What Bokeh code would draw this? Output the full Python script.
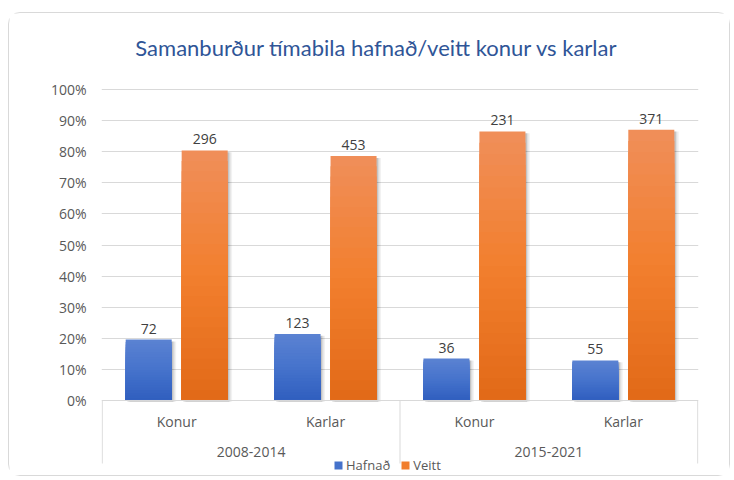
from bokeh.plotting import figure
from bokeh.models import Range1d, FixedTicker, NumeralTickFormatter, ColumnDataSource, Legend, LegendItem
from bokeh.core.properties import value
from bokeh.embed import file_html
from bokeh.resources import INLINE
import numpy as np

# ---- data ----
periods = ["2008-2014", "2015-2021"]
genders = ["Konur", "Karlar"]
categories = ["Konur", "Karlar", "Konur", "Karlar"]
hafnad_count = [72, 123, 36, 55]
veitt_count = [296, 453, 231, 371]
hafnad_pct = [0.196, 0.214, 0.135, 0.129]
veitt_pct = [0.804, 0.786, 0.865, 0.871]
yticks = [0.0, 0.1, 0.2, 0.3, 0.4, 0.5, 0.6, 0.7, 0.8, 0.9, 1.0]
series_names = ["Hafnað", "Veitt"]
title_text = "Samanburður tímabila hafnað/veitt konur vs karlar"

# ---- style ----
GRID = "#D9D9D9"
TXT = "#595959"
LBL = "#404040"
FONT = "Open Sans"
blue_grad = ["#5A82D2", "#4673CC", "#305FBF"]
orange_grad = ["#F08E58", "#F27F2E", "#E26A18"]
BAR_W = 0.309
DODGE = 0.188

n_cat = len(categories)
cat_pos = np.arange(n_cat) + 0.5
per_group = len(genders)
group_pos = np.arange(len(periods)) * per_group + per_group / 2
edges = np.arange(len(periods) + 1) * per_group

p = figure(width=722, height=464,
           x_range=Range1d(-0.005, n_cat + 0.005),
           y_range=Range1d(-0.2444, 1.2412),
           output_backend="svg", toolbar_location=None,
           x_axis_location=None, y_axis_location="left",
           min_border_left=92, min_border_right=33,
           min_border_top=1, min_border_bottom=1)
p.styles = {"margin": "12px 0px 0px 8px", "border": "1px solid #D9D9D9", "border-radius": "12px"}
p.outline_line_color = None
p.background_fill_color = "white"
p.border_fill_color = "white"
p.xgrid.visible = False
p.ygrid.ticker = FixedTicker(ticks=yticks)
p.ygrid.grid_line_color = GRID
p.ygrid.grid_line_width = 1

ax = p.yaxis[0]
ax.ticker = FixedTicker(ticks=yticks)
ax.formatter = NumeralTickFormatter(format="0%")
ax.axis_line_color = None
ax.major_tick_line_color = None
ax.minor_tick_line_color = None
ax.major_tick_out = 0
ax.major_label_standoff = 15
ax.major_label_text_font = FONT
ax.major_label_text_font_size = "14px"
ax.major_label_text_color = TXT

# chart title (drawn as text above the plot area)
p.text(x=[1.843], y=[1.135], text=[title_text], text_align="center", text_baseline="middle",
       text_font=value("Lato"), text_font_size="22px", text_color="#2F5597")


def hex2rgb(h):
    h = h.lstrip("#")
    return np.array([int(h[i:i + 2], 16) for i in (0, 2, 4)], dtype=float)


def grad(cols, t):
    if t <= 0.5:
        a, b, u = hex2rgb(cols[0]), hex2rgb(cols[1]), t / 0.5
    else:
        a, b, u = hex2rgb(cols[1]), hex2rgb(cols[2]), (t - 0.5) / 0.5
    c = a + (b - a) * u
    return "#%02x%02x%02x" % tuple(int(round(v)) for v in c)


def draw_bars(xs, tops, cols):
    tops = np.array(tops)
    # soft shadow
    for sh, al in [(0.03, 0.05), (0.02, 0.08), (0.011, 0.12)]:
        p.vbar(x=xs + sh, top=tops - 0.006, bottom=-0.004, width=BAR_W,
               fill_color="black", fill_alpha=al, line_color=None)
    N = 24
    mid = None
    for k in range(N):
        frac = 1 - k / N
        r = p.vbar(x=xs, top=tops * frac, bottom=0, width=BAR_W,
                   fill_color=grad(cols, k / (N - 1)), line_color=None)
        if k == N // 2:
            mid = r
    return mid


r_h = draw_bars(cat_pos - DODGE, hafnad_pct, blue_grad)
r_v = draw_bars(cat_pos + DODGE, veitt_pct, orange_grad)

# axis baseline and category box separators
p.segment(x0=[0], y0=[0], x1=[n_cat], y1=[0], line_color=GRID, line_width=1)
p.segment(x0=edges, y0=np.zeros(len(edges)), x1=edges, y1=np.full(len(edges), -0.2026),
          line_color=GRID, line_width=1)

# data labels
lab_src = ColumnDataSource(dict(
    x=np.concatenate([cat_pos - DODGE, cat_pos + DODGE]),
    y=hafnad_pct + veitt_pct,
    t=[str(v) for v in hafnad_count + veitt_count]))
p.text(x="x", y="y", text="t", source=lab_src, text_align="center", text_baseline="bottom",
       y_offset=-6, text_font=value(FONT), text_font_size="14px", text_color=LBL)

# category labels
p.text(x=cat_pos, y=np.full(n_cat, -0.0675), text=categories, text_align="center",
       text_baseline="middle", text_font=value(FONT), text_font_size="14px", text_color=TXT)
p.text(x=group_pos, y=np.full(len(periods), -0.167), text=periods, text_align="center",
       text_baseline="middle", text_font=value(FONT), text_font_size="14px", text_color=TXT)

# legend
legend = Legend(items=[LegendItem(label=series_names[0], renderers=[r_h]),
                       LegendItem(label=series_names[1], renderers=[r_v])],
                orientation="horizontal", location=(232, 2))
legend.padding = 0
legend.margin = 0
legend.spacing = 10
legend.glyph_width = 10
legend.glyph_height = 10
legend.label_standoff = 3
legend.label_height = 12
legend.label_text_font = FONT
legend.label_text_font_size = "13px"
legend.label_text_color = TXT
legend.border_line_color = None
legend.background_fill_alpha = 0
p.add_layout(legend, "center")

open("out.html", "w").write(file_html(p, INLINE))
